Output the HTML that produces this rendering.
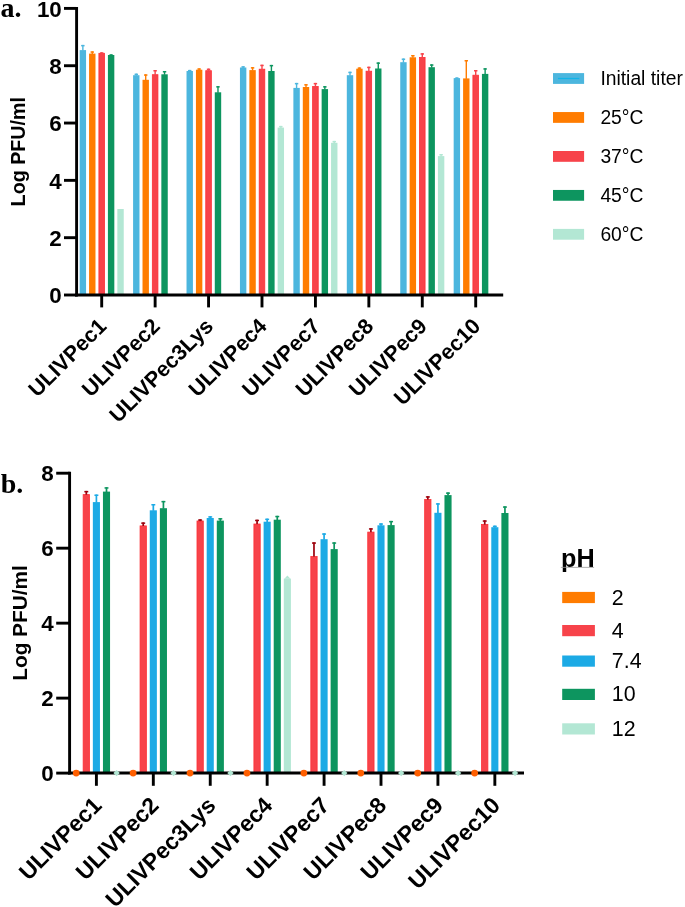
<!DOCTYPE html>
<html><head><meta charset="utf-8"><title>Phage stability</title>
<style>html,body{margin:0;padding:0;background:#fff;width:685px;height:907px;overflow:hidden}svg{display:block;filter:grayscale(0)} text{}</style>
</head><body>
<svg width="685" height="907" viewBox="0 0 685 907"><rect width="685" height="907" fill="#fff"/><rect x="79.66" y="50.10" width="6.4" height="244.90" fill="#4cb6de"/><rect x="82.16" y="44.90" width="1.4" height="5.70" fill="#4cb6de"/><rect x="81.16" y="44.90" width="3.4" height="1.5" fill="#4cb6de"/><rect x="89.08" y="53.60" width="6.4" height="241.40" fill="#ff7c00"/><rect x="91.58" y="51.30" width="1.4" height="2.80" fill="#ff7c00"/><rect x="90.58" y="51.30" width="3.4" height="1.5" fill="#ff7c00"/><rect x="98.90" y="53.30" width="5.60" height="242.10" fill="#f7434a" stroke="#fd2f35" stroke-width="0.8"/><rect x="101.00" y="52.30" width="1.4" height="1.10" fill="#f7434a"/><rect x="100.00" y="52.30" width="3.4" height="1.5" fill="#f7434a"/><rect x="107.92" y="55.00" width="6.4" height="240.00" fill="#0d955f"/><rect x="110.42" y="54.30" width="1.4" height="1.20" fill="#0d955f"/><rect x="109.42" y="54.30" width="3.4" height="1.5" fill="#0d955f"/><rect x="117.34" y="209.00" width="6.4" height="86.00" fill="#b3e7d4"/><rect x="133.09" y="75.20" width="6.4" height="219.80" fill="#4cb6de"/><rect x="135.59" y="73.60" width="1.4" height="2.10" fill="#4cb6de"/><rect x="134.59" y="73.60" width="3.4" height="1.5" fill="#4cb6de"/><rect x="142.51" y="79.80" width="6.4" height="215.20" fill="#ff7c00"/><rect x="145.01" y="74.30" width="1.4" height="6.00" fill="#ff7c00"/><rect x="144.01" y="74.30" width="3.4" height="1.5" fill="#ff7c00"/><rect x="152.33" y="74.70" width="5.60" height="220.70" fill="#f7434a" stroke="#fd2f35" stroke-width="0.8"/><rect x="154.43" y="70.00" width="1.4" height="4.80" fill="#f7434a"/><rect x="153.43" y="70.00" width="3.4" height="1.5" fill="#f7434a"/><rect x="161.35" y="74.30" width="6.4" height="220.70" fill="#0d955f"/><rect x="163.85" y="71.00" width="1.4" height="3.80" fill="#0d955f"/><rect x="162.85" y="71.00" width="3.4" height="1.5" fill="#0d955f"/><rect x="186.52" y="71.00" width="6.4" height="224.00" fill="#4cb6de"/><rect x="189.02" y="69.90" width="1.4" height="1.60" fill="#4cb6de"/><rect x="188.02" y="69.90" width="3.4" height="1.5" fill="#4cb6de"/><rect x="195.94" y="69.70" width="6.4" height="225.30" fill="#ff7c00"/><rect x="198.44" y="68.30" width="1.4" height="1.90" fill="#ff7c00"/><rect x="197.44" y="68.30" width="3.4" height="1.5" fill="#ff7c00"/><rect x="205.76" y="70.70" width="5.60" height="224.70" fill="#f7434a" stroke="#fd2f35" stroke-width="0.8"/><rect x="207.86" y="68.60" width="1.4" height="2.20" fill="#f7434a"/><rect x="206.86" y="68.60" width="3.4" height="1.5" fill="#f7434a"/><rect x="214.78" y="92.30" width="6.4" height="202.70" fill="#0d955f"/><rect x="217.28" y="86.10" width="1.4" height="6.70" fill="#0d955f"/><rect x="216.28" y="86.10" width="3.4" height="1.5" fill="#0d955f"/><rect x="239.95" y="67.50" width="6.4" height="227.50" fill="#4cb6de"/><rect x="242.45" y="66.20" width="1.4" height="1.80" fill="#4cb6de"/><rect x="241.45" y="66.20" width="3.4" height="1.5" fill="#4cb6de"/><rect x="249.37" y="70.10" width="6.4" height="224.90" fill="#ff7c00"/><rect x="251.87" y="67.10" width="1.4" height="3.50" fill="#ff7c00"/><rect x="250.87" y="67.10" width="3.4" height="1.5" fill="#ff7c00"/><rect x="259.19" y="69.20" width="5.60" height="226.20" fill="#f7434a" stroke="#fd2f35" stroke-width="0.8"/><rect x="261.29" y="64.70" width="1.4" height="4.60" fill="#f7434a"/><rect x="260.29" y="64.70" width="3.4" height="1.5" fill="#f7434a"/><rect x="268.21" y="71.00" width="6.4" height="224.00" fill="#0d955f"/><rect x="270.71" y="64.90" width="1.4" height="6.60" fill="#0d955f"/><rect x="269.71" y="64.90" width="3.4" height="1.5" fill="#0d955f"/><rect x="277.63" y="127.60" width="6.4" height="167.40" fill="#b3e7d4"/><rect x="280.13" y="125.90" width="1.4" height="2.20" fill="#b3e7d4"/><rect x="279.13" y="125.90" width="3.4" height="1.5" fill="#b3e7d4"/><rect x="293.38" y="87.90" width="6.4" height="207.10" fill="#4cb6de"/><rect x="295.88" y="82.90" width="1.4" height="5.50" fill="#4cb6de"/><rect x="294.88" y="82.90" width="3.4" height="1.5" fill="#4cb6de"/><rect x="302.80" y="87.00" width="6.4" height="208.00" fill="#ff7c00"/><rect x="305.30" y="84.10" width="1.4" height="3.40" fill="#ff7c00"/><rect x="304.30" y="84.10" width="3.4" height="1.5" fill="#ff7c00"/><rect x="312.62" y="86.50" width="5.60" height="208.90" fill="#f7434a" stroke="#fd2f35" stroke-width="0.8"/><rect x="314.72" y="82.90" width="1.4" height="3.70" fill="#f7434a"/><rect x="313.72" y="82.90" width="3.4" height="1.5" fill="#f7434a"/><rect x="321.64" y="89.10" width="6.4" height="205.90" fill="#0d955f"/><rect x="324.14" y="86.10" width="1.4" height="3.50" fill="#0d955f"/><rect x="323.14" y="86.10" width="3.4" height="1.5" fill="#0d955f"/><rect x="331.06" y="142.80" width="6.4" height="152.20" fill="#b3e7d4"/><rect x="333.56" y="140.90" width="1.4" height="2.40" fill="#b3e7d4"/><rect x="332.56" y="140.90" width="3.4" height="1.5" fill="#b3e7d4"/><rect x="346.81" y="75.20" width="6.4" height="219.80" fill="#4cb6de"/><rect x="349.31" y="71.70" width="1.4" height="4.00" fill="#4cb6de"/><rect x="348.31" y="71.70" width="3.4" height="1.5" fill="#4cb6de"/><rect x="356.23" y="68.70" width="6.4" height="226.30" fill="#ff7c00"/><rect x="358.73" y="67.40" width="1.4" height="1.80" fill="#ff7c00"/><rect x="357.73" y="67.40" width="3.4" height="1.5" fill="#ff7c00"/><rect x="366.05" y="71.20" width="5.60" height="224.20" fill="#f7434a" stroke="#fd2f35" stroke-width="0.8"/><rect x="368.15" y="66.70" width="1.4" height="4.60" fill="#f7434a"/><rect x="367.15" y="66.70" width="3.4" height="1.5" fill="#f7434a"/><rect x="375.07" y="68.50" width="6.4" height="226.50" fill="#0d955f"/><rect x="377.57" y="62.40" width="1.4" height="6.60" fill="#0d955f"/><rect x="376.57" y="62.40" width="3.4" height="1.5" fill="#0d955f"/><rect x="400.24" y="62.20" width="6.4" height="232.80" fill="#4cb6de"/><rect x="402.74" y="58.50" width="1.4" height="4.20" fill="#4cb6de"/><rect x="401.74" y="58.50" width="3.4" height="1.5" fill="#4cb6de"/><rect x="409.66" y="57.30" width="6.4" height="237.70" fill="#ff7c00"/><rect x="412.16" y="55.00" width="1.4" height="2.80" fill="#ff7c00"/><rect x="411.16" y="55.00" width="3.4" height="1.5" fill="#ff7c00"/><rect x="419.48" y="57.40" width="5.60" height="238.00" fill="#f7434a" stroke="#fd2f35" stroke-width="0.8"/><rect x="421.58" y="53.20" width="1.4" height="4.30" fill="#f7434a"/><rect x="420.58" y="53.20" width="3.4" height="1.5" fill="#f7434a"/><rect x="428.50" y="67.20" width="6.4" height="227.80" fill="#0d955f"/><rect x="431.00" y="64.30" width="1.4" height="3.40" fill="#0d955f"/><rect x="430.00" y="64.30" width="3.4" height="1.5" fill="#0d955f"/><rect x="437.92" y="156.10" width="6.4" height="138.90" fill="#b3e7d4"/><rect x="440.42" y="154.00" width="1.4" height="2.60" fill="#b3e7d4"/><rect x="439.42" y="154.00" width="3.4" height="1.5" fill="#b3e7d4"/><rect x="453.67" y="78.10" width="6.4" height="216.90" fill="#4cb6de"/><rect x="456.17" y="77.40" width="1.4" height="1.20" fill="#4cb6de"/><rect x="455.17" y="77.40" width="3.4" height="1.5" fill="#4cb6de"/><rect x="463.09" y="78.40" width="6.4" height="216.60" fill="#ff7c00"/><rect x="465.59" y="60.00" width="1.4" height="18.90" fill="#ff7c00"/><rect x="464.59" y="60.00" width="3.4" height="1.5" fill="#ff7c00"/><rect x="472.91" y="75.20" width="5.60" height="220.20" fill="#f7434a" stroke="#fd2f35" stroke-width="0.8"/><rect x="475.01" y="70.00" width="1.4" height="5.30" fill="#f7434a"/><rect x="474.01" y="70.00" width="3.4" height="1.5" fill="#f7434a"/><rect x="481.93" y="73.90" width="6.4" height="221.10" fill="#0d955f"/><rect x="484.43" y="68.20" width="1.4" height="6.20" fill="#0d955f"/><rect x="483.43" y="68.20" width="3.4" height="1.5" fill="#0d955f"/><line x1="76.60" y1="7.00" x2="76.60" y2="296.50" stroke="#000" stroke-width="2.9"/><line x1="75.15" y1="295.00" x2="503.2" y2="295.00" stroke="#000" stroke-width="2.9"/><line x1="64.0" y1="295.00" x2="76.60" y2="295.00" stroke="#000" stroke-width="2.9"/><text x="61.8" y="303.20" text-anchor="end" font-family='"Liberation Sans", sans-serif' font-weight="bold" font-size="22.4">0</text><line x1="64.0" y1="237.68" x2="76.60" y2="237.68" stroke="#000" stroke-width="2.9"/><text x="61.8" y="245.88" text-anchor="end" font-family='"Liberation Sans", sans-serif' font-weight="bold" font-size="22.4">2</text><line x1="64.0" y1="180.36" x2="76.60" y2="180.36" stroke="#000" stroke-width="2.9"/><text x="61.8" y="188.56" text-anchor="end" font-family='"Liberation Sans", sans-serif' font-weight="bold" font-size="22.4">4</text><line x1="64.0" y1="123.04" x2="76.60" y2="123.04" stroke="#000" stroke-width="2.9"/><text x="61.8" y="131.24" text-anchor="end" font-family='"Liberation Sans", sans-serif' font-weight="bold" font-size="22.4">6</text><line x1="64.0" y1="65.72" x2="76.60" y2="65.72" stroke="#000" stroke-width="2.9"/><text x="61.8" y="73.92" text-anchor="end" font-family='"Liberation Sans", sans-serif' font-weight="bold" font-size="22.4">8</text><line x1="64.0" y1="8.40" x2="76.60" y2="8.40" stroke="#000" stroke-width="2.9"/><text x="61.8" y="16.60" text-anchor="end" font-family='"Liberation Sans", sans-serif' font-weight="bold" font-size="22.4">10</text><line x1="101.70" y1="295.00" x2="101.70" y2="307.4" stroke="#000" stroke-width="2.9"/><text transform="translate(107.70,327.60) rotate(-45)" text-anchor="end" font-family='"Liberation Sans", sans-serif' font-weight="bold" font-size="21.6">ULIVPec1</text><line x1="155.13" y1="295.00" x2="155.13" y2="307.4" stroke="#000" stroke-width="2.9"/><text transform="translate(161.13,327.60) rotate(-45)" text-anchor="end" font-family='"Liberation Sans", sans-serif' font-weight="bold" font-size="21.6">ULIVPec2</text><line x1="208.56" y1="295.00" x2="208.56" y2="307.4" stroke="#000" stroke-width="2.9"/><text transform="translate(214.56,327.60) rotate(-45)" text-anchor="end" font-family='"Liberation Sans", sans-serif' font-weight="bold" font-size="21.6">ULIVPec3Lys</text><line x1="261.99" y1="295.00" x2="261.99" y2="307.4" stroke="#000" stroke-width="2.9"/><text transform="translate(267.99,327.60) rotate(-45)" text-anchor="end" font-family='"Liberation Sans", sans-serif' font-weight="bold" font-size="21.6">ULIVPec4</text><line x1="315.42" y1="295.00" x2="315.42" y2="307.4" stroke="#000" stroke-width="2.9"/><text transform="translate(321.42,327.60) rotate(-45)" text-anchor="end" font-family='"Liberation Sans", sans-serif' font-weight="bold" font-size="21.6">ULIVPec7</text><line x1="368.85" y1="295.00" x2="368.85" y2="307.4" stroke="#000" stroke-width="2.9"/><text transform="translate(374.85,327.60) rotate(-45)" text-anchor="end" font-family='"Liberation Sans", sans-serif' font-weight="bold" font-size="21.6">ULIVPec8</text><line x1="422.28" y1="295.00" x2="422.28" y2="307.4" stroke="#000" stroke-width="2.9"/><text transform="translate(428.28,327.60) rotate(-45)" text-anchor="end" font-family='"Liberation Sans", sans-serif' font-weight="bold" font-size="21.6">ULIVPec9</text><line x1="475.71" y1="295.00" x2="475.71" y2="307.4" stroke="#000" stroke-width="2.9"/><text transform="translate(481.71,327.60) rotate(-45)" text-anchor="end" font-family='"Liberation Sans", sans-serif' font-weight="bold" font-size="21.6">ULIVPec10</text><text transform="translate(24.9,151.7) rotate(-90)" text-anchor="middle" font-family='"Liberation Sans", sans-serif' font-weight="bold" font-size="19.7">Log PFU/ml</text><text x="0.6" y="17.0" font-family='"Liberation Serif", serif' font-weight="bold" font-size="28">a.</text><rect x="553.0" y="73.10" width="31.1" height="10.8" fill="#4cb6de"/><rect x="558.0" y="77.90" width="21.3" height="1.2" fill="#12b4e8"/><text x="600.4" y="85.10" font-family='"Liberation Sans", sans-serif' font-size="19.3">Initial titer</text><rect x="553.0" y="112.05" width="31.1" height="10.8" fill="#ff7c00"/><text x="600.4" y="124.05" font-family='"Liberation Sans", sans-serif' font-size="19.3">25°C</text><rect x="553.0" y="151.00" width="31.1" height="10.8" fill="#f7434a"/><text x="600.4" y="163.00" font-family='"Liberation Sans", sans-serif' font-size="19.3">37°C</text><rect x="553.0" y="189.95" width="31.1" height="10.8" fill="#0d955f"/><text x="600.4" y="201.95" font-family='"Liberation Sans", sans-serif' font-size="19.3">45°C</text><rect x="553.0" y="228.90" width="31.1" height="10.8" fill="#b3e7d4"/><text x="600.4" y="240.90" font-family='"Liberation Sans", sans-serif' font-size="19.3">60°C</text><rect x="83.15" y="494.60" width="6.30" height="278.90" fill="#f7434a" stroke="#fd2f35" stroke-width="0.8"/><rect x="85.45" y="490.90" width="1.7" height="3.80" fill="#9c000c"/><rect x="84.35" y="490.90" width="3.9" height="1.5" fill="#9c000c"/><rect x="92.85" y="502.10" width="7.1" height="271.00" fill="#1caae5"/><rect x="95.55" y="494.50" width="1.7" height="8.10" fill="#1caae5"/><rect x="94.45" y="494.50" width="3.9" height="1.5" fill="#1caae5"/><rect x="102.95" y="491.60" width="7.1" height="281.50" fill="#0d955f"/><rect x="105.65" y="487.20" width="1.7" height="4.90" fill="#0d955f"/><rect x="104.55" y="487.20" width="3.9" height="1.5" fill="#0d955f"/><rect x="140.07" y="525.90" width="6.30" height="247.60" fill="#f7434a" stroke="#fd2f35" stroke-width="0.8"/><rect x="142.37" y="522.40" width="1.7" height="3.60" fill="#9c000c"/><rect x="141.27" y="522.40" width="3.9" height="1.5" fill="#9c000c"/><rect x="149.77" y="510.30" width="7.1" height="262.80" fill="#1caae5"/><rect x="152.47" y="504.00" width="1.7" height="6.80" fill="#1caae5"/><rect x="151.37" y="504.00" width="3.9" height="1.5" fill="#1caae5"/><rect x="159.87" y="508.20" width="7.1" height="264.90" fill="#0d955f"/><rect x="162.57" y="500.90" width="1.7" height="7.80" fill="#0d955f"/><rect x="161.47" y="500.90" width="3.9" height="1.5" fill="#0d955f"/><rect x="196.99" y="521.00" width="6.30" height="252.50" fill="#f7434a" stroke="#fd2f35" stroke-width="0.8"/><rect x="199.29" y="519.30" width="1.7" height="1.80" fill="#9c000c"/><rect x="198.19" y="519.30" width="3.9" height="1.5" fill="#9c000c"/><rect x="206.69" y="518.00" width="7.1" height="255.10" fill="#1caae5"/><rect x="209.39" y="516.20" width="1.7" height="2.30" fill="#1caae5"/><rect x="208.29" y="516.20" width="3.9" height="1.5" fill="#1caae5"/><rect x="216.79" y="520.60" width="7.1" height="252.50" fill="#0d955f"/><rect x="219.49" y="518.10" width="1.7" height="3.00" fill="#0d955f"/><rect x="218.39" y="518.10" width="3.9" height="1.5" fill="#0d955f"/><rect x="253.91" y="524.00" width="6.30" height="249.50" fill="#f7434a" stroke="#fd2f35" stroke-width="0.8"/><rect x="256.21" y="519.70" width="1.7" height="4.40" fill="#9c000c"/><rect x="255.11" y="519.70" width="3.9" height="1.5" fill="#9c000c"/><rect x="263.61" y="521.70" width="7.1" height="251.40" fill="#1caae5"/><rect x="266.31" y="518.60" width="1.7" height="3.60" fill="#1caae5"/><rect x="265.21" y="518.60" width="3.9" height="1.5" fill="#1caae5"/><rect x="273.71" y="519.70" width="7.1" height="253.40" fill="#0d955f"/><rect x="276.41" y="515.80" width="1.7" height="4.40" fill="#0d955f"/><rect x="275.31" y="515.80" width="3.9" height="1.5" fill="#0d955f"/><rect x="283.81" y="578.6" width="7.1" height="194.50" fill="#b3e7d4"/><path d="M284.36 578.8 L287.36 575.6 L290.36 578.8 Z" fill="#b3e7d4"/><rect x="310.83" y="556.50" width="6.30" height="217.00" fill="#f7434a" stroke="#fd2f35" stroke-width="0.8"/><rect x="313.13" y="542.30" width="1.7" height="14.30" fill="#9c000c"/><rect x="312.03" y="542.30" width="3.9" height="1.5" fill="#9c000c"/><rect x="320.53" y="539.20" width="7.1" height="233.90" fill="#1caae5"/><rect x="323.23" y="533.30" width="1.7" height="6.40" fill="#1caae5"/><rect x="322.13" y="533.30" width="3.9" height="1.5" fill="#1caae5"/><rect x="330.63" y="549.10" width="7.1" height="224.00" fill="#0d955f"/><rect x="333.33" y="542.30" width="1.7" height="7.30" fill="#0d955f"/><rect x="332.23" y="542.30" width="3.9" height="1.5" fill="#0d955f"/><rect x="367.75" y="532.10" width="6.30" height="241.40" fill="#f7434a" stroke="#fd2f35" stroke-width="0.8"/><rect x="370.05" y="528.20" width="1.7" height="4.00" fill="#9c000c"/><rect x="368.95" y="528.20" width="3.9" height="1.5" fill="#9c000c"/><rect x="377.45" y="525.30" width="7.1" height="247.80" fill="#1caae5"/><rect x="380.15" y="523.30" width="1.7" height="2.50" fill="#1caae5"/><rect x="379.05" y="523.30" width="3.9" height="1.5" fill="#1caae5"/><rect x="387.55" y="525.10" width="7.1" height="248.00" fill="#0d955f"/><rect x="390.25" y="520.90" width="1.7" height="4.70" fill="#0d955f"/><rect x="389.15" y="520.90" width="3.9" height="1.5" fill="#0d955f"/><rect x="424.67" y="499.50" width="6.30" height="274.00" fill="#f7434a" stroke="#fd2f35" stroke-width="0.8"/><rect x="426.97" y="496.20" width="1.7" height="3.40" fill="#9c000c"/><rect x="425.87" y="496.20" width="3.9" height="1.5" fill="#9c000c"/><rect x="434.37" y="512.80" width="7.1" height="260.30" fill="#1caae5"/><rect x="437.07" y="503.20" width="1.7" height="10.10" fill="#1caae5"/><rect x="435.97" y="503.20" width="3.9" height="1.5" fill="#1caae5"/><rect x="444.47" y="495.10" width="7.1" height="278.00" fill="#0d955f"/><rect x="447.17" y="492.40" width="1.7" height="3.20" fill="#0d955f"/><rect x="446.07" y="492.40" width="3.9" height="1.5" fill="#0d955f"/><rect x="481.59" y="524.50" width="6.30" height="249.00" fill="#f7434a" stroke="#fd2f35" stroke-width="0.8"/><rect x="483.89" y="520.30" width="1.7" height="4.30" fill="#9c000c"/><rect x="482.79" y="520.30" width="3.9" height="1.5" fill="#9c000c"/><rect x="491.29" y="527.20" width="7.1" height="245.90" fill="#1caae5"/><rect x="493.99" y="525.60" width="1.7" height="2.10" fill="#1caae5"/><rect x="492.89" y="525.60" width="3.9" height="1.5" fill="#1caae5"/><rect x="501.39" y="513.00" width="7.1" height="260.10" fill="#0d955f"/><rect x="504.09" y="506.30" width="1.7" height="7.20" fill="#0d955f"/><rect x="502.99" y="506.30" width="3.9" height="1.5" fill="#0d955f"/><line x1="69.60" y1="471.80" x2="69.60" y2="774.60" stroke="#000" stroke-width="2.9"/><line x1="68.15" y1="773.10" x2="524.0" y2="773.10" stroke="#000" stroke-width="3.0"/><line x1="56.2" y1="773.10" x2="69.60" y2="773.10" stroke="#000" stroke-width="2.9"/><text x="53.8" y="781.00" text-anchor="end" font-family='"Liberation Sans", sans-serif' font-weight="bold" font-size="22.4">0</text><line x1="56.2" y1="698.12" x2="69.60" y2="698.12" stroke="#000" stroke-width="2.9"/><text x="53.8" y="706.02" text-anchor="end" font-family='"Liberation Sans", sans-serif' font-weight="bold" font-size="22.4">2</text><line x1="56.2" y1="623.15" x2="69.60" y2="623.15" stroke="#000" stroke-width="2.9"/><text x="53.8" y="631.05" text-anchor="end" font-family='"Liberation Sans", sans-serif' font-weight="bold" font-size="22.4">4</text><line x1="56.2" y1="548.17" x2="69.60" y2="548.17" stroke="#000" stroke-width="2.9"/><text x="53.8" y="556.07" text-anchor="end" font-family='"Liberation Sans", sans-serif' font-weight="bold" font-size="22.4">6</text><line x1="56.2" y1="473.20" x2="69.60" y2="473.20" stroke="#000" stroke-width="2.9"/><text x="53.8" y="481.10" text-anchor="end" font-family='"Liberation Sans", sans-serif' font-weight="bold" font-size="22.4">8</text><line x1="96.40" y1="773.10" x2="96.40" y2="785.8" stroke="#000" stroke-width="2.9"/><text transform="translate(103.10,806.80) rotate(-45)" text-anchor="end" font-family='"Liberation Sans", sans-serif' font-weight="bold" font-size="22.9">ULIVPec1</text><line x1="153.32" y1="773.10" x2="153.32" y2="785.8" stroke="#000" stroke-width="2.9"/><text transform="translate(160.02,806.80) rotate(-45)" text-anchor="end" font-family='"Liberation Sans", sans-serif' font-weight="bold" font-size="22.9">ULIVPec2</text><line x1="210.24" y1="773.10" x2="210.24" y2="785.8" stroke="#000" stroke-width="2.9"/><text transform="translate(216.94,806.80) rotate(-45)" text-anchor="end" font-family='"Liberation Sans", sans-serif' font-weight="bold" font-size="22.9">ULIVPec3Lys</text><line x1="267.16" y1="773.10" x2="267.16" y2="785.8" stroke="#000" stroke-width="2.9"/><text transform="translate(273.86,806.80) rotate(-45)" text-anchor="end" font-family='"Liberation Sans", sans-serif' font-weight="bold" font-size="22.9">ULIVPec4</text><line x1="324.08" y1="773.10" x2="324.08" y2="785.8" stroke="#000" stroke-width="2.9"/><text transform="translate(330.78,806.80) rotate(-45)" text-anchor="end" font-family='"Liberation Sans", sans-serif' font-weight="bold" font-size="22.9">ULIVPec7</text><line x1="381.00" y1="773.10" x2="381.00" y2="785.8" stroke="#000" stroke-width="2.9"/><text transform="translate(387.70,806.80) rotate(-45)" text-anchor="end" font-family='"Liberation Sans", sans-serif' font-weight="bold" font-size="22.9">ULIVPec8</text><line x1="437.92" y1="773.10" x2="437.92" y2="785.8" stroke="#000" stroke-width="2.9"/><text transform="translate(444.62,806.80) rotate(-45)" text-anchor="end" font-family='"Liberation Sans", sans-serif' font-weight="bold" font-size="22.9">ULIVPec9</text><line x1="494.84" y1="773.10" x2="494.84" y2="785.8" stroke="#000" stroke-width="2.9"/><text transform="translate(501.54,806.80) rotate(-45)" text-anchor="end" font-family='"Liberation Sans", sans-serif' font-weight="bold" font-size="22.9">ULIVPec10</text><circle cx="76.20" cy="773.10" r="3.4" fill="#ff5f00"/><path d="M113.40 773.10 L116.60 769.90 L119.80 773.10 L116.60 776.30 Z" fill="#b3e7d4"/><circle cx="133.12" cy="773.10" r="3.4" fill="#ff5f00"/><path d="M170.32 773.10 L173.52 769.90 L176.72 773.10 L173.52 776.30 Z" fill="#b3e7d4"/><circle cx="190.04" cy="773.10" r="3.4" fill="#ff5f00"/><path d="M227.24 773.10 L230.44 769.90 L233.64 773.10 L230.44 776.30 Z" fill="#b3e7d4"/><circle cx="246.96" cy="773.10" r="3.4" fill="#ff5f00"/><circle cx="303.88" cy="773.10" r="3.4" fill="#ff5f00"/><path d="M341.08 773.10 L344.28 769.90 L347.48 773.10 L344.28 776.30 Z" fill="#b3e7d4"/><circle cx="360.80" cy="773.10" r="3.4" fill="#ff5f00"/><path d="M398.00 773.10 L401.20 769.90 L404.40 773.10 L401.20 776.30 Z" fill="#b3e7d4"/><circle cx="417.72" cy="773.10" r="3.4" fill="#ff5f00"/><path d="M454.92 773.10 L458.12 769.90 L461.32 773.10 L458.12 776.30 Z" fill="#b3e7d4"/><circle cx="474.64" cy="773.10" r="3.4" fill="#ff5f00"/><path d="M511.84 773.10 L515.04 769.90 L518.24 773.10 L515.04 776.30 Z" fill="#b3e7d4"/><text transform="translate(27.3,623.0) rotate(-90)" text-anchor="middle" font-family='"Liberation Sans", sans-serif' font-weight="bold" font-size="20.8">Log PFU/ml</text><text x="0.8" y="492.8" font-family='"Liberation Serif", serif' font-weight="bold" font-size="28">b.</text><text x="561.0" y="567.2" font-family='"Liberation Sans", sans-serif' font-weight="bold" font-size="25.2">pH</text><rect x="560.8" y="566.9" width="33.3" height="0.8" fill="#9a9a9a"/><rect x="562.2" y="591.90" width="32.7" height="11.2" fill="#ff7c00"/><text x="611.8" y="604.50" font-family='"Liberation Sans", sans-serif' font-size="21.4">2</text><rect x="562.2" y="625.00" width="32.7" height="11.2" fill="#f7434a"/><text x="611.8" y="637.60" font-family='"Liberation Sans", sans-serif' font-size="21.4">4</text><rect x="562.2" y="655.50" width="32.7" height="11.2" fill="#1caae5"/><text x="611.8" y="668.10" font-family='"Liberation Sans", sans-serif' font-size="21.4">7.4</text><rect x="562.2" y="688.80" width="32.7" height="11.2" fill="#0d955f"/><text x="611.8" y="701.40" font-family='"Liberation Sans", sans-serif' font-size="21.4">10</text><rect x="562.2" y="723.30" width="32.7" height="11.2" fill="#b3e7d4"/><text x="611.8" y="735.90" font-family='"Liberation Sans", sans-serif' font-size="21.4">12</text></svg>
</body></html>
